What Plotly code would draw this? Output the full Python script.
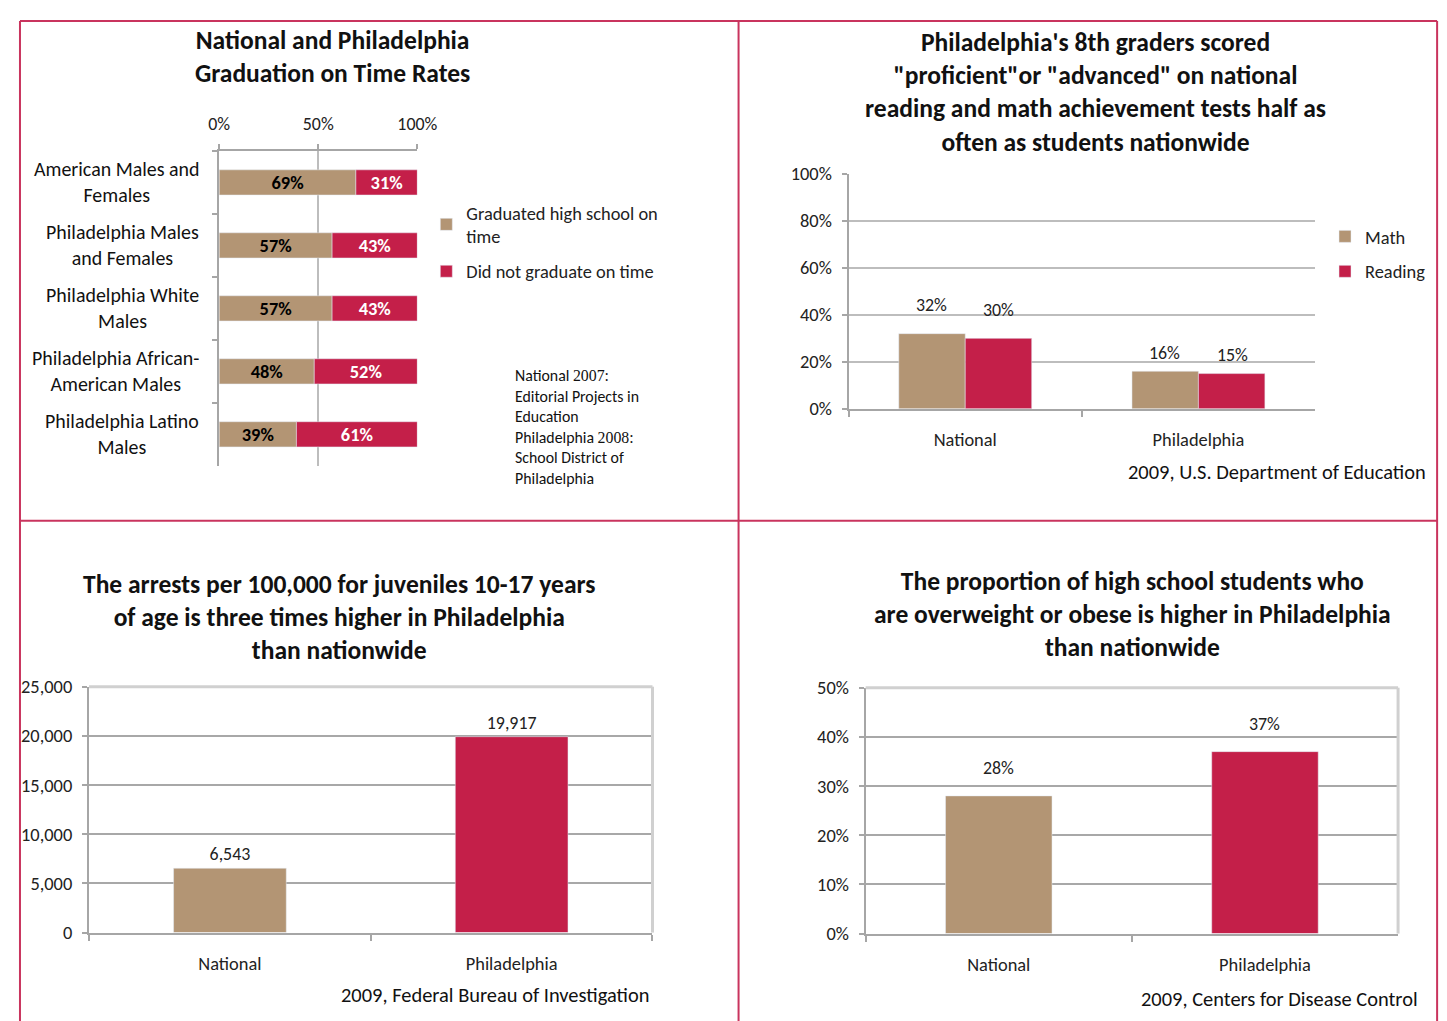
import plotly.graph_objects as go

# the photographed page shows the figure shrunk by K and shifted by B,
# so all positions below are reference pixels mapped back through that
K, B = 0.978, 19.0
W, H = 1460, 1025
FONT = "Carlito, Lato, sans-serif"
TAN = '#B39574'
RED = '#C41F49'
GRID = '#BDBDBD'
FRAME = '#D0D0D0'
AXIS = '#A6A6A6'
BORDER = '#C9345E'

# panel 1 - graduation on time
grad_groups = ['American Males and<br>Females', 'Philadelphia Males<br>and Females',
               'Philadelphia White<br>Males', 'Philadelphia African-<br>American Males',
               'Philadelphia Latino<br>Males']
grad_yes = [69, 57, 57, 48, 39]
grad_no = [31, 43, 43, 52, 61]

# panel 2 - 8th graders proficient
test_groups = ['National', 'Philadelphia']
math_scores = [32, 16]
reading_scores = [30, 15]

# panel 3 - juvenile arrests per 100,000
arrest_groups = ['National', 'Philadelphia']
arrests = [6543, 19917]

# panel 4 - overweight / obese
obese_groups = ['National', 'Philadelphia']
obese_pct = [28, 37]


def px(x):
    return min(max((x - B) / K / W, 0), 1)


def py(y):
    return min(max(1 - (y - B) / K / H, 0), 1)


def s(v):
    # sizes in reference pixels -> figure pixels
    return v / K


fig = go.Figure()

# ---- panel 1 (stacked by hand: second bar starts where the first ends)
fig.add_trace(go.Bar(
    y=grad_groups, x=grad_yes, orientation='h', name='Graduated high school on<br>time',
    marker_color=TAN, width=0.4, offsetgroup='grad', text=[f'{v}%' for v in grad_yes],
    textposition='inside', insidetextanchor='middle', constraintext='none',
    textfont=dict(color='black', size=s(18), family=FONT, weight='bold'),
    xaxis='x', yaxis='y', legend='legend', legendgroup='g1'))
fig.add_trace(go.Bar(
    y=grad_groups, x=grad_no, base=grad_yes, orientation='h', name='Did not graduate on time',
    marker_color=RED, width=0.4, offsetgroup='grad', text=[f'{v}%' for v in grad_no],
    textposition='inside', insidetextanchor='middle', constraintext='none',
    textfont=dict(color='white', size=s(18), family=FONT, weight='bold'),
    xaxis='x', yaxis='y', legend='legend', legendgroup='g2'))

# ---- panel 2
fig.add_trace(go.Bar(
    x=test_groups, y=math_scores, name='Math', marker_color=TAN,
    xaxis='x2', yaxis='y2', legend='legend2', legendgroup='m'))
fig.add_trace(go.Bar(
    x=test_groups, y=reading_scores, name='Reading', marker_color=RED,
    xaxis='x2', yaxis='y2', legend='legend2', legendgroup='r'))

# ---- panel 3
fig.add_trace(go.Bar(
    x=arrest_groups, y=arrests, marker_color=[TAN, RED], width=0.4,
    text=[f'{v:,}' for v in arrests], textposition='outside', cliponaxis=False,
    textfont=dict(color='#222', size=s(17.5), family=FONT),
    xaxis='x3', yaxis='y3', showlegend=False))

# ---- panel 4
fig.add_trace(go.Bar(
    x=obese_groups, y=obese_pct, marker_color=[TAN, RED], width=0.4,
    xaxis='x4', yaxis='y4', showlegend=False))

tick_font = dict(family=FONT, size=s(18), color='#222')

y_common = dict(showgrid=True, gridwidth=2, zeroline=False, showline=True, linecolor=AXIS,
                linewidth=2, ticks='outside', ticklen=s(5), tickcolor=AXIS, tickwidth=2,
                tickfont=tick_font, ticklabelstandoff=round(s(5.5)))
x_common = dict(showline=True, linecolor=AXIS, linewidth=2, tickson='boundaries',
                ticks='outside', ticklen=s(6), tickcolor=AXIS, tickwidth=2,
                tickfont=tick_font, ticklabelstandoff=round(s(12.5)))

fig.update_layout(
    width=W, height=H,
    margin=dict(l=0, r=0, t=0, b=0),
    paper_bgcolor='white', plot_bgcolor='rgba(0,0,0,0)',
    font=dict(family=FONT, color='#111'),
    barmode='group',
    bargap=0.43, bargroupgap=0,
    # panel 1 axes
    xaxis=dict(domain=[px(219), px(417)], anchor='y', side='top', range=[0, 100],
               tickvals=[0, 50, 100], ticktext=['0%', '50%', '100%'],
               tickfont=dict(family=FONT, size=s(17.5), color='#222'),
               showgrid=True, gridcolor=GRID, gridwidth=2, zeroline=False,
               showline=True, linecolor=AXIS, linewidth=2, ticklabelstandoff=round(s(7)),
               ticks='outside', ticklen=s(5), tickcolor=AXIS, tickwidth=2),
    yaxis=dict(domain=[py(465), py(150)], anchor='x', autorange='reversed',
               showticklabels=False, tickson='boundaries', ticks='outside', ticklen=s(5),
               tickcolor=AXIS, tickwidth=2, showline=True, linecolor=AXIS,
               linewidth=2, showgrid=False),
    # panel 2 axes
    xaxis2=dict(domain=[px(848), px(1314)], anchor='y2', **x_common),
    yaxis2=dict(domain=[py(408), py(173)], anchor='x2', range=[0, 100], dtick=20,
                ticksuffix='%', gridcolor=GRID, **y_common),
    # panel 3 axes
    xaxis3=dict(domain=[px(89), px(652)], anchor='y3', **x_common),
    yaxis3=dict(domain=[py(932), py(686)], anchor='x3', range=[0, 25000], dtick=5000,
                tickformat=',', gridcolor='#A8A8A8', **y_common),
    # panel 4 axes
    xaxis4=dict(domain=[px(865), px(1397)], anchor='y4', **x_common),
    yaxis4=dict(domain=[py(933), py(687)], anchor='x4', range=[0, 50], dtick=10,
                ticksuffix='%', gridcolor='#A8A8A8', **y_common),
    legend=dict(x=px(426), y=py(193), xanchor='left', yanchor='top',
                font=dict(family=FONT, size=s(18), color='#222'), tracegroupgap=round(s(8)),
                bgcolor='rgba(0,0,0,0)', itemwidth=30),
    legend2=dict(x=px(1324), y=py(217), xanchor='left', yanchor='top',
                 font=dict(family=FONT, size=s(18), color='#222'), tracegroupgap=round(s(8)),
                 bgcolor='rgba(0,0,0,0)', itemwidth=30),
)

# value labels sitting a little above the bars, as in the original
label_font = dict(family=FONT, size=s(17.5), color='#222')
for vals, shift in [(math_scores, -33), (reading_scores, 33)]:
    for g, v in zip(test_groups, vals):
        fig.add_annotation(x=g, y=v, xref='x2', yref='y2', text=f'{v}%', showarrow=False,
                           xshift=s(shift), yshift=s(28 if g == 'National' else 18),
                           font=label_font)
for g, v in zip(obese_groups, obese_pct):
    fig.add_annotation(x=g, y=v, xref='x4', yref='y4', text=f'{v}%', showarrow=False,
                       yshift=s(27), font=label_font)

# category labels of panel 1, centred lines like the original
for g in grad_groups:
    fig.add_annotation(x=px(201), xref='paper', y=g, yref='y', text=g, showarrow=False,
                       xanchor='right', align='center',
                       font=dict(family=FONT, size=s(19.5), color='#111'))

# frame lines on top and right of the lower charts
for xa, ya in [('x3', 'y3'), ('x4', 'y4')]:
    fig.add_shape(type='line', xref=f'{xa} domain', yref=f'{ya} domain', x0=0, x1=1, y0=1, y1=1,
                  line=dict(color=FRAME, width=3))
    fig.add_shape(type='line', xref=f'{xa} domain', yref=f'{ya} domain', x0=1, x1=1, y0=0, y1=1,
                  line=dict(color=FRAME, width=3))

title_font = dict(family=FONT, size=s(25), color='#111', weight='bold')
titles = [
    (332, 56, 'National and Philadelphia<br>Graduation on Time Rates'),
    (1095, 92, 'Philadelphia\'s 8th graders scored<br>"proficient"or "advanced" on national<br>'
               'reading and math achievement tests half as<br>often as students nationwide'),
    (339, 617, 'The arrests per 100,000 for juveniles 10-17 years<br>of age is three times higher '
               'in Philadelphia<br>than nationwide'),
    (1132, 614, 'The proportion of high school students who<br>are overweight or obese is higher '
                'in Philadelphia<br>than nationwide'),
]
for x, y, t in titles:
    fig.add_annotation(x=px(x), y=py(y), xref='paper', yref='paper', text=t, showarrow=False,
                       xanchor='center', yanchor='middle', align='center', font=title_font)

serif = '<span style="font-family:Liberation Serif">'
note = (f'National {serif}2007:</span><br>Editorial Projects in<br>Education<br>'
        f'Philadelphia {serif}2008:</span><br>School District of<br>Philadelphia')
fig.add_annotation(x=px(513), y=py(426), xref='paper', yref='paper', text=note, showarrow=False,
                   xanchor='left', yanchor='middle', align='left',
                   font=dict(family=FONT, size=s(15.5), color='#111'))

sources = [
    (1427, 471, '2009, U.S. Department of Education'),
    (651, 994, '2009, Federal Bureau of Investigation'),
    (1419, 998, '2009, Centers for Disease Control'),
]
for x, y, t in sources:
    fig.add_annotation(x=px(x), y=py(y), xref='paper', yref='paper', text=t, showarrow=False,
                       xanchor='right', yanchor='middle',
                       font=dict(family=FONT, size=s(20), color='#111'))

# crimson panel borders (outer ones kept just inside the photographed area)
left, top, right = 1 / W, 1 - 1 / H, px(1436)
borders = [(left, top, right, top), (left, top, left, 0), (right, top, right, 0),
           (px(738), top, px(738), 0), (left, py(520), right, py(520))]
for x0, y0, x1, y1 in borders:
    fig.add_shape(type='line', xref='paper', yref='paper', x0=x0, x1=x1, y0=y0, y1=y1,
                  line=dict(color=BORDER, width=2))

fig.write_html("out.html")
